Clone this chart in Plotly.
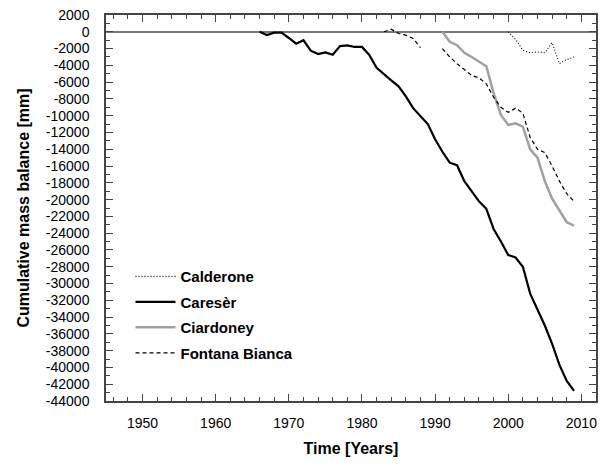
import plotly.graph_objects as go

# ---- data ----
careser_years = list(range(1966, 2010))
careser_vals = [0, -380, -100, -100, -740, -1420, -1010, -2250, -2650, -2450,
                -2730, -1700, -1620, -1810, -1810, -2760, -4300, -5100, -5800, -6500,
                -7700, -9100, -10100, -11000, -12800, -14300, -15600, -15900, -17800, -19000,
                -20200, -21100, -23500, -25000, -26600, -26900, -28000, -31200, -33000, -35000,
                -37200, -39700, -41600, -42800]

calderone_years = list(range(2000, 2010))
calderone_vals = [0, -900, -2200, -2500, -2400, -2500, -1300, -3800, -3300, -3000]

ciardoney_years = list(range(1991, 2010))
ciardoney_vals = [0, -1200, -1600, -2500, -3000, -3500, -4100, -7300, -9900, -11100,
                  -10900, -11300, -14000, -15000, -17800, -19900, -21300, -22700, -23100]

fontana_years = list(range(1983, 2010))
fontana_vals = [0, 300, -200, -400, -800, -1900, None, None, -2000, -3000,
                -3800, -4500, -5200, -5500, -6200, -7800, -9000, -9600, -9100, -9700,
                -12600, -14000, -14400, -16000, -17800, -19300, -20200]

y_tick_vals = list(range(2000, -44001, -2000))
y_tick_text = [str(v) for v in y_tick_vals]
x_tick_vals = [1950, 1960, 1970, 1980, 1990, 2000, 2010]

fig = go.Figure()
fig.add_trace(go.Scatter(x=calderone_years, y=calderone_vals, mode="lines", name="Calderone",
                         legendgroup="a", line=dict(color="black", width=1.1, dash="1px,2px")))
fig.add_trace(go.Scatter(x=careser_years, y=careser_vals, mode="lines", name="Caresèr",
                         legendgroup="b", line=dict(color="black", width=2.2)))
fig.add_trace(go.Scatter(x=ciardoney_years, y=ciardoney_vals, mode="lines", name="Ciardoney",
                         legendgroup="c", line=dict(color="#a0a0a0", width=2.5)))
fig.add_trace(go.Scatter(x=fontana_years, y=fontana_vals, mode="lines", name="Fontana Bianca",
                         legendgroup="d", connectgaps=False,
                         line=dict(color="black", width=1.2, dash="4px,3px")))

axis_common = dict(
    showline=True, linecolor="#444", linewidth=1.5, mirror="allticks",
    ticks="inside", tickcolor="#444", tickwidth=1.2, ticklen=7,
    showgrid=False, automargin=False, ticklabeloverflow="allow",
    tickfont=dict(family="Liberation Sans, Arial", size=14, color="black"),
)

fig.update_layout(
    width=612, height=465,
    margin=dict(l=98, r=24, t=7, b=72),
    plot_bgcolor="white", paper_bgcolor="white",
    showlegend=True,
    legend=dict(x=0.05, y=0.365, xanchor="left", yanchor="top", itemwidth=40,
                font=dict(family="Liberation Sans, Arial", size=15, color="black", weight="bold"),
                tracegroupgap=3, bgcolor="rgba(0,0,0,0)"),
    xaxis=dict(range=[1945, 2012], tickvals=x_tick_vals,
               minor=dict(dtick=2, tick0=1950, ticks="inside", ticklen=4, tickcolor="#444"),
               ticklabelstandoff=8,
               title=dict(text="<b>Time [Years]</b>", standoff=13,
                          font=dict(family="Liberation Sans, Arial", size=16, color="black")),
               zeroline=False, **axis_common),
    yaxis=dict(range=[-44000, 2000], tickvals=y_tick_vals, ticktext=y_tick_text,
               minor=dict(dtick=1000, tick0=0, ticks="inside", ticklen=4, tickcolor="#444"),
               ticklabelstandoff=12,
               title=dict(text="<b>Cumulative mass balance [mm]</b>", standoff=12,
                          font=dict(family="Liberation Sans, Arial", size=16, color="black")),
               zeroline=True, zerolinecolor="#777", zerolinewidth=2, **axis_common),
)

fig.write_html("out.html")
